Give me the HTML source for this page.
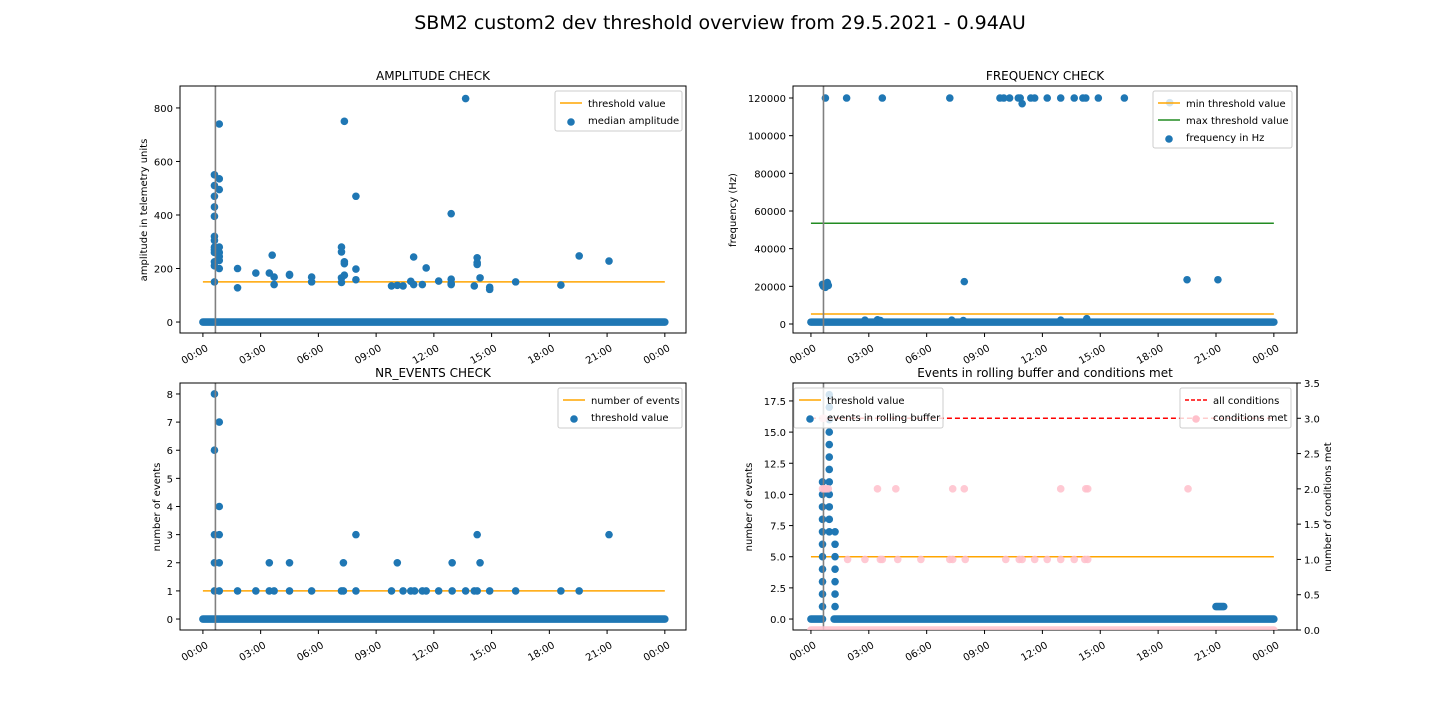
<!DOCTYPE html>
<html><head><meta charset="utf-8"><style>
body{margin:0;background:#fff;width:1440px;height:720px;overflow:hidden;font-family:"DejaVu Sans","Liberation Sans",sans-serif}
svg{position:absolute;left:0;top:0}
</style></head><body>
<svg id="s" width="1440" height="720" xmlns="http://www.w3.org/2000/svg"></svg>
<script>
// ---------- data ----------
const ampTimes=[0.6,0.6,0.6,0.6,0.6,0.6,0.6,0.6,0.6,0.6,0.6,0.6,0.6,0.85,0.85,0.85,0.85,0.85,0.85,0.85,0.85,1.8,1.8,2.75,3.45,3.6,3.7,3.7,4.5,4.5,5.65,5.65,7.2,7.2,7.2,7.2,7.35,7.35,7.35,7.35,7.95,7.95,7.95,9.8,10.1,10.4,10.8,10.95,10.95,11.4,11.6,12.25,12.9,12.9,12.9,12.9,13.65,14.1,14.25,14.25,14.25,14.4,14.9,14.9,16.25,18.6,19.55,21.1];
const ampValues=[550,510,470,430,395,320,305,280,270,260,225,210,150,740,535,495,280,260,245,230,200,200,128,183,183,250,168,140,178,175,168,150,280,262,165,148,750,225,218,175,470,198,158,135,137,135,152,243,140,140,202,153,405,160,145,140,835,135,240,222,215,165,130,122,150,138,247,228];
const ampThreshold=150;
const freqTimes=[0.75,1.85,3.7,7.2,9.8,10.0,10.3,10.75,10.85,10.95,11.4,11.6,12.25,12.95,13.65,14.1,14.25,14.9,16.25,18.6,0.6,0.65,0.75,0.85,0.9,7.95,19.5,21.1,2.8,3.45,3.6,7.3,7.9,12.95,14.3];
const freqValues=[120000,120000,120000,120000,120000,120000,120000,120000,120000,117000,120000,120000,120000,120000,120000,120000,120000,120000,120000,117500,21000,20000,19500,22000,20500,22500,23500,23500,2000,2200,1800,2000,1800,2000,2800];
const freqMin=5300, freqMax=53500, freqBase=1000;
const nrTimes=[0.6,0.6,0.6,0.6,0.6,0.85,0.85,0.85,0.85,0.85,1.8,2.75,3.45,3.45,3.7,4.5,4.5,5.65,7.2,7.3,7.3,7.95,7.95,9.8,10.1,10.4,10.8,11.0,11.4,11.6,12.25,12.95,12.95,13.65,14.1,14.25,14.25,14.4,14.9,16.25,18.6,19.55,21.1];
const nrValues=[8,6,3,2,1,7,4,3,2,1,1,1,2,1,1,2,1,1,1,2,1,3,1,1,2,1,1,1,1,1,1,2,1,1,1,3,1,2,1,1,1,1,3];
const nrThreshold=1;
const bufTimes=[0.6,0.6,0.6,0.6,0.6,0.6,0.6,0.6,0.6,0.6,0.6,0.95,0.95,0.95,0.95,0.95,0.95,0.95,0.95,0.95,0.95,0.95,0.95,1.25,1.25,1.25,1.25,1.25,1.25,1.25];
const bufValues=[1,2,3,4,5,6,7,8,9,10,11,18,17,16,15,14,13,12,11,10,9,8,7,7,6,5,4,3,2,1];
const bufOneBand=[21.0,21.4];
const bufZeroBands=[[0,0.6],[1.2,24]];
const bufThreshold=5, allConditions=3;
const condTimes=[0.6,0.7,0.6,0.7,0.8,0.9,3.45,4.4,7.35,7.95,12.95,14.25,14.35,19.55,1.9,2.8,3.6,3.7,4.5,5.7,7.2,7.35,8.0,10.1,10.8,10.95,11.6,12.25,12.95,13.65,14.2,14.35];
const condValues=[3,3,2,2,2,2,2,2,2,2,2,2,2,2,1,1,1,1,1,1,1,1,1,1,1,1,1,1,1,1,1,1];
const xTickLabels=["00:00","03:00","06:00","09:00","12:00","15:00","18:00","21:00","00:00"];
const vlineHour=0.65;

// ---------- drawing ----------
const S=document.getElementById('s');const NS='http://www.w3.org/2000/svg';
const FONT='DejaVu Sans, Liberation Sans, sans-serif';
function el(t,a,p){const e=document.createElementNS(NS,t);for(const k in a)e.setAttribute(k,a[k]);(p||S).appendChild(e);return e;}
function txt(x,y,s,a,p){const e=el('text',Object.assign({x:x,y:y,'font-size':10,fill:'#000','font-family':FONT},a),p);e.textContent=s;return e;}
const BLUE='#1f77b4',OR='#ffa500',R=3.8;
const defs=el('defs',{});let clipN=0;

function axes(name,L,T,Rr,B,x0,x1,y0,y1){
  const g=el('g',{});
  
  
  const id='c'+(clipN++);const cp=el('clipPath',{id:id},defs);el('rect',{x:L,y:T,width:Rr-L,height:B-T},cp);
  const X=h=>L+(h-x0)/(x1-x0)*(Rr-L), Y=v=>B-(v-y0)/(y1-y0)*(B-T);
  return {g,X,Y,L,T,Rr,B,clip:'url(#'+id+')'};
}
function frame(a){el('rect',{x:a.L,y:a.T,width:a.Rr-a.L,height:a.B-a.T,fill:'none',stroke:'#000','stroke-width':1},a.g);}
function xticks(a){xTickLabels.forEach((s,i)=>{const x=a.X(i*3);el('line',{x1:x,x2:x,y1:a.B,y2:a.B+4,stroke:'#000'},a.g);
  const t=txt(x+6,a.B+17,s,{'text-anchor':'end',transform:`rotate(-30 ${x+6} ${a.B+17})`},a.g);
  });}
function yticks(a,vals,fmt,right){vals.forEach(v=>{const y=a.Y(v);
  if(right){el('line',{x1:a.Rr,x2:a.Rr+4,y1:y,y2:y,stroke:'#000'},a.g);txt(a.Rr+7,y+4,fmt(v),{},a.g);}
  else{el('line',{x1:a.L-4,x2:a.L,y1:y,y2:y,stroke:'#000'},a.g);txt(a.L-7,y+4,fmt(v),{'text-anchor':'end'},a.g);}});}
function hline(a,v,col,name,dash){const l=el('line',{x1:a.X(0),x2:a.X(24),y1:a.Y(v),y2:a.Y(v),stroke:col,'stroke-width':1.5},a.g);if(dash)l.setAttribute('stroke-dasharray',dash);
  }
function band(a,h0,h1,v,col,name,op){const r=el('rect',{x:a.X(h0)-R,y:a.Y(v)-R,width:a.X(h1)-a.X(h0)+2*R,height:2*R,rx:R,fill:col,'fill-opacity':op||1,'clip-path':a.clip},a.g);
  }
function dots(a,ts,vs,col,name,op){ts.forEach((t,i)=>{const c=el('circle',{cx:a.X(t),cy:a.Y(vs[i]),r:R,fill:col,'fill-opacity':op||1},a.g);
  });}
function vline(a){el('line',{x1:a.X(vlineHour),x2:a.X(vlineHour),y1:a.T,y2:a.B,stroke:'#808080','stroke-width':1.6},a.g);}
function title(a,s,name){const t=txt((a.L+a.Rr)/2,a.T-6,s,{'text-anchor':'middle','font-size':12},a.g);}
function ylabel(x,y,s,name){const t=txt(x,y,s,{'text-anchor':'middle',transform:`rotate(-90 ${x} ${y})`});}
function legend(x,y,w,items,name){const g=el('g',{});
  el('rect',{x:x,y:y,width:w,height:items.length*17+6,rx:2,fill:'#fff','fill-opacity':0.8,stroke:'#ccc'},g);
  items.forEach((it,i)=>{const yy=y+12+i*17;
    if(it[1]==='dot')el('circle',{cx:x+16,cy:yy+2,r:R,fill:it[2],'fill-opacity':it[3]||1},g);
    else{const l=el('line',{x1:x+5,x2:x+27,y1:yy,y2:yy,stroke:it[2],'stroke-width':1.5},g);if(it[1]==='dash')l.setAttribute('stroke-dasharray','4,2');}
    txt(x+33,yy+4,it[0],{},g);});}

txt(720,29,'SBM2 custom2 dev threshold overview from 29.5.2021 - 0.94AU',{'text-anchor':'middle','font-size':19});

// Amplitude
let a=axes('amplitude-check-panel',180,86,686,333,-1.19,25.1,-41,882);
band(a,0,24,0,BLUE,'amplitude-zero-band');hline(a,ampThreshold,OR,'amplitude-threshold-line');
dots(a,ampTimes,ampValues,BLUE,'amplitude-point');vline(a);frame(a);xticks(a);yticks(a,[0,200,400,600,800],v=>v);
title(a,'AMPLITUDE CHECK','amplitude-title');ylabel(147,210,'amplitude in telemetry units','amplitude-y-axis-title');
legend(555,91,127,[['threshold value','line',OR],['median amplitude','dot',BLUE]],'amplitude-legend');

// Frequency
a=axes('frequency-check-panel',793,86,1297,333,-0.93,25.2,-4779,126372);
band(a,0,24,freqBase,BLUE,'frequency-base-band');hline(a,freqMin,OR,'min-threshold-line');hline(a,freqMax,'#228b22','max-threshold-line');
dots(a,freqTimes,freqValues,BLUE,'frequency-point');vline(a);frame(a);xticks(a);
yticks(a,[0,20000,40000,60000,80000,100000,120000],v=>v);
title(a,'FREQUENCY CHECK','frequency-title');ylabel(736,210,'frequency (Hz)','frequency-y-axis-title');
legend(1153,91,139,[['min threshold value','line',OR],['max threshold value','line','#228b22'],['frequency in Hz','dot',BLUE]],'frequency-legend');

// NR events
a=axes('nr-events-check-panel',180,383,686,630,-1.19,25.1,-0.39,8.39);
band(a,0,24,0,BLUE,'nr-events-zero-band');hline(a,nrThreshold,OR,'nr-events-threshold-line');
dots(a,nrTimes,nrValues,BLUE,'nr-events-point');vline(a);frame(a);xticks(a);yticks(a,[0,1,2,3,4,5,6,7,8],v=>v);
title(a,'NR_EVENTS CHECK','nr-events-title');ylabel(160,507,'number of events','nr-events-y-axis-title');
legend(558,388,124,[['number of events','line',OR],['threshold value','dot',BLUE]],'nr-events-legend');

// Rolling buffer
a=axes('rolling-buffer-panel',793,383,1297,630,-0.93,25.2,-0.88,18.94);
const a2=axes('conditions-axis',793,383,1297,630,-0.93,25.2,0,3.5);
bufZeroBands.forEach(b=>band(a,b[0],b[1],0,BLUE,'buffer-zero-band'));band(a,bufOneBand[0],bufOneBand[1],1,BLUE,'buffer-one-band');
hline(a,bufThreshold,OR,'buffer-threshold-line');dots(a,bufTimes,bufValues,BLUE,'buffer-point');vline(a);
band(a2,0,24,0,'#ffc0cb','conditions-zero-band',0.85);hline(a2,allConditions,'#ff0000','all-conditions-line','5,3');
dots(a2,condTimes,condValues,'#ffc0cb','conditions-point',0.85);
frame(a);xticks(a);yticks(a,[0,2.5,5,7.5,10,12.5,15,17.5],v=>v.toFixed(1));
yticks(a2,[0,0.5,1,1.5,2,2.5,3,3.5],v=>v.toFixed(1),true);
title(a,'Events in rolling buffer and conditions met','buffer-title');
ylabel(752,507,'number of events','buffer-y-axis-title');ylabel(1331,507,'number of conditions met','conditions-y-axis-title');
legend(794,388,149,[['threshold value','line',OR],['events in rolling buffer','dot',BLUE]],'buffer-legend');
legend(1180,388,111,[['all conditions','dash','#ff0000'],['conditions met','dot','#ffc0cb']],'conditions-legend');
</script>
</body></html>
